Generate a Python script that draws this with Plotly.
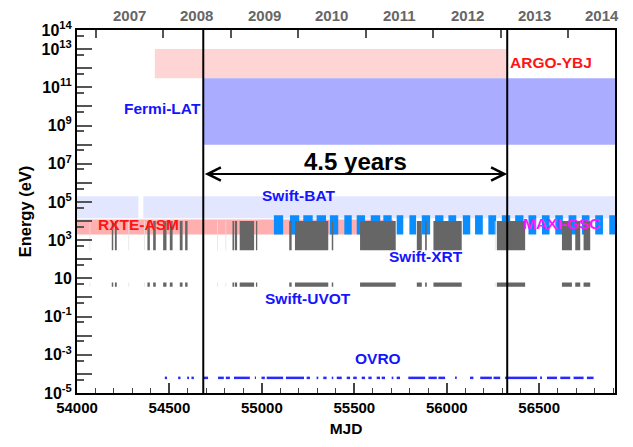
import math
from datetime import date
import plotly.graph_objects as go

# ---------------- data ----------------
X_MIN, X_MAX = 54000, 56910
years = [2007, 2008, 2009, 2010, 2011, 2012, 2013, 2014]

era_bounds = [54683, 56327]          # 4.5 years window
era_label = "4.5 years"
arrow_energy = 2.9e6
era_text_energy = 1.35e7

argo_start, argo_end = [54421], [56327]
argo_e = [3e11, 1e13]

fermi_start, fermi_end = [54683], [56910]
fermi_e = [1e8, 3e11]

bat_start, bat_end = [54000, 54359], [54332, 56910]
bat_e = [1.4e4, 2e5]

asm_start, asm_end = [54000], [55710]
asm_e = [2e3, 1.2e4]

maxi_start = [55065, 55152, 55224, 55296, 55368, 55446, 55513, 55589, 55657, 55729,
              55798, 55865, 55937, 56009, 56087, 56153, 56225, 56298, 56370, 56442,
              56515, 56587, 56659, 56731, 56803, 56879]
maxi_end = [55115, 55202, 55275, 55347, 55413, 55486, 55558, 55640, 55702, 55765,
            55834, 55910, 55982, 56051, 56127, 56195, 56267, 56343, 56415, 56484,
            56556, 56628, 56701, 56772, 56845, 56910]
maxi_e = [2e3, 2e4]

xrt_start = [54188, 54205, 54381, 54412, 54466, 54502, 54556, 54585, 54841, 54854,
             54880, 54968, 55148, 55179, 55378, 55531, 55838, 55883, 55928, 56271,
             56623, 56695, 56740]
xrt_end = [54196, 54215, 54394, 54426, 54484, 54517, 54571, 54598, 54850, 54866,
           54958, 54975, 55161, 55359, 55386, 55724, 55865, 55892, 56081, 56424,
           56677, 56722, 56776]
xrt_faint_start = [54068, 54278, 54363, 54758, 54803, 56260]
xrt_faint_end = [54072, 54282, 54367, 54762, 54807, 56264]
xrt_e = [3e2, 1e4]
uvot_e = [3.6, 6.0]

ovro_start = [54475, 54547, 54596, 54619, 54682, 54763, 54805, 54849, 54962, 54998,
              55026, 55130, 55242, 55296, 55332, 55378, 55405, 55459, 55494, 55540,
              55576, 55621, 55648, 55702, 55729, 55792, 55901, 55955, 56045, 56126,
              56181, 56253, 56316, 56505, 56542, 56614, 56686, 56758]
ovro_end = [54487, 54560, 54606, 54632, 54709, 54794, 54827, 54935, 54968, 55016,
            55115, 55228, 55260, 55305, 55350, 55386, 55432, 55477, 55513, 55558,
            55594, 55639, 55666, 55711, 55747, 55883, 55946, 55991, 56054, 56144,
            56244, 56289, 56488, 56515, 56596, 56668, 56740, 56794]
ovro_e = 6.2e-5

labels = [
    # text, mjd, energy, color, xanchor
    ("ARGO-YBJ", 56330, 2.0e12, "#ff1414", "left"),
    ("Fermi-LAT", 54680, 7.4e9, "#1414ff", "right"),
    ("Swift-BAT", 54990, 2.3e5, "#1414ff", "left"),
    ("RXTE-ASM", 54105, 6.5e3, "#ff1414", "left"),
    ("MAXI-GSC", 56401, 7.4e3, "#ff14ff", "left"),
    ("Swift-XRT", 55679, 1.45e2, "#1414ff", "left"),
    ("Swift-UVOT", 55008, 0.93, "#1414ff", "left"),
    ("OVRO", 55495, 6.6e-4, "#1414ff", "left"),
]

y_labeled = [14, 13, 11, 9, 7, 5, 3, 1, -1, -3, -5]
y_unlabeled = [12, 10, 8, 6, 4, 2, 0, -2, -4]

# ---------------- figure ----------------
fig = go.Figure()


def add_rects(starts, ends, lo, hi, color):
    xs, ys = [], []
    for s, e in zip(starts, ends):
        xs += [s, e, e, s, s, None]
        ys += [lo, lo, hi, hi, lo, None]
    fig.add_trace(go.Scatter(x=xs, y=ys, mode="lines", fill="toself",
                             fillcolor=color, line=dict(width=0, color=color),
                             hoverinfo="skip", showlegend=False))


add_rects(argo_start, argo_end, argo_e[0], argo_e[1], "rgb(255,212,212)")
add_rects(fermi_start, fermi_end, fermi_e[0], fermi_e[1], "rgb(170,172,255)")
add_rects(bat_start, bat_end, bat_e[0], bat_e[1], "rgb(226,230,255)")
add_rects(asm_start, asm_end, asm_e[0], asm_e[1], "rgb(255,175,175)")
add_rects(maxi_start, maxi_end, maxi_e[0], maxi_e[1], "rgb(10,142,255)")
add_rects(xrt_faint_start, xrt_faint_end, xrt_e[0], xrt_e[1], "rgb(225,225,225)")
add_rects(xrt_faint_start, xrt_faint_end, uvot_e[0], uvot_e[1], "rgb(225,225,225)")
add_rects(xrt_start, xrt_end, xrt_e[0], xrt_e[1], "rgb(102,102,102)")
add_rects(xrt_start, xrt_end, uvot_e[0], uvot_e[1], "rgb(102,102,102)")

ox, oy = [], []
for s, e in zip(ovro_start, ovro_end):
    ox += [s, e, None]
    oy += [ovro_e, ovro_e, None]
fig.add_trace(go.Scatter(x=ox, y=oy, mode="lines",
                         line=dict(color="rgb(40,40,255)", width=2.5),
                         hoverinfo="skip", showlegend=False))

# top (year) axis carrier and unlabeled-decade tick carrier
year_jan1 = [(date(y, 1, 1) - date(1858, 11, 17)).days for y in years]
year_mid = [(date(y, 7, 2) - date(1858, 11, 17)).days for y in years]
fig.add_trace(go.Scatter(x=[year_jan1[0]], y=[1], xaxis="x2", yaxis="y2", mode="markers",
                         marker=dict(opacity=0), hoverinfo="skip", showlegend=False))

# vertical era lines
for xb in era_bounds:
    fig.add_shape(type="line", xref="x", yref="paper", x0=xb, x1=xb, y0=0, y1=1,
                  line=dict(color="black", width=2), layer="above")

annotations = []
annotations.append(dict(x=era_bounds[1], y=math.log10(arrow_energy),
                        ax=era_bounds[0], ay=math.log10(arrow_energy),
                        xref="x", yref="y", axref="x", ayref="y", text="",
                        showarrow=True, arrowhead=5, startarrowhead=5,
                        arrowside="end+start", arrowsize=1.3, arrowwidth=2,
                        arrowcolor="black", standoff=0, startstandoff=0))
annotations.append(dict(x=(era_bounds[0] + era_bounds[1]) / 2,
                        y=math.log10(era_text_energy), xref="x", yref="y",
                        text="<b>%s</b>" % era_label, showarrow=False,
                        font=dict(family="Liberation Sans, Arial", size=24, color="black")))
for txt, mx, en, col, xa in labels:
    annotations.append(dict(x=mx, y=math.log10(en), xref="x", yref="y",
                            text="<b>%s</b>" % txt, showarrow=False, xanchor=xa,
                            font=dict(family="Liberation Sans, Arial", size=15.5, color=col)))
for y, m in zip(years, year_mid):
    annotations.append(dict(x=m, y=1, xref="x", yref="paper", yanchor="bottom",
                            yshift=4, text="<b>%d</b>" % y, showarrow=False,
                            font=dict(family="Liberation Sans, Arial", size=15, color="#666666")))

ytext = ["10" if d == 1 else "10<sup>%d</sup>" % d for d in y_labeled]

fig.update_layout(
    width=633, height=447,
    margin=dict(l=77, r=18, t=30, b=49),
    paper_bgcolor="white", plot_bgcolor="white",
    font=dict(family="Liberation Sans, Arial", color="black"),
    showlegend=False,
    annotations=annotations,
    xaxis=dict(range=[X_MIN, X_MAX], tick0=54000, dtick=500, ticks="inside",
               tickformat="d",
               ticklen=10, tickwidth=1.5, tickcolor="#444",
               minor=dict(dtick=100, ticks="inside", ticklen=5, tickwidth=1.2,
                          tickcolor="#444"),
               showline=True, linecolor="black", linewidth=2, mirror=True,
               showgrid=False, zeroline=False,
               tickfont=dict(size=15, color="black", weight="bold"),
               title=dict(text="<b>MJD</b>", font=dict(size=15.5), standoff=8)),
    xaxis2=dict(range=[X_MIN, X_MAX], overlaying="x", side="top",
                tickmode="array", tickvals=year_jan1, ticks="inside",
                ticklen=8, tickwidth=2, tickcolor="#555", showticklabels=False,
                showline=False, showgrid=False, zeroline=False),
    yaxis=dict(type="log", range=[-5, 14], tickmode="array",
               tickvals=[10.0 ** d for d in y_labeled], ticktext=ytext,
               ticks="inside", ticklen=15, tickwidth=2, tickcolor="#555",
               minor=dict(tickmode="array", tickvals=[5 * 10.0 ** d for d in range(-6, 14)],
                          ticks="inside", ticklen=7, tickwidth=2, tickcolor="#555"),
               showline=True, linecolor="black", linewidth=2, mirror=True,
               showgrid=False, zeroline=False,
               tickfont=dict(size=16, color="black", weight="bold"),
               title=dict(text="<b>Energy (eV)</b>", font=dict(size=16.5), standoff=6)),
    yaxis2=dict(type="log", range=[-5, 14], overlaying="y", side="left",
                tickmode="array", tickvals=[10.0 ** d for d in y_unlabeled],
                ticks="inside", ticklen=15, tickwidth=2, tickcolor="#555",
                showticklabels=False, showline=False, showgrid=False, zeroline=False),
)

fig.write_html("out.html")
